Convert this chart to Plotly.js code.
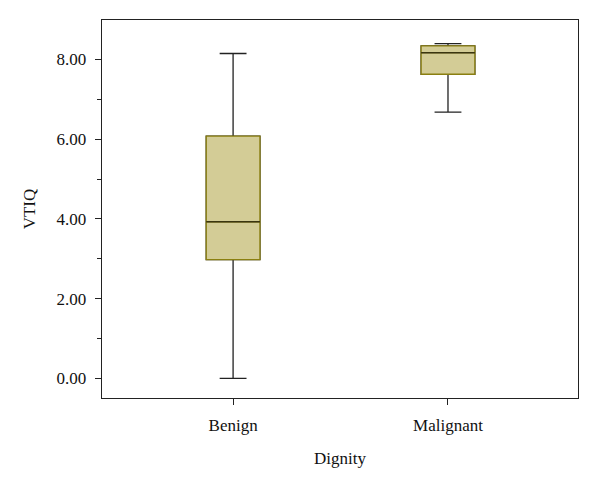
<!DOCTYPE html>
<html>
<head>
<meta charset="utf-8">
<script src="https://cdn.plot.ly/plotly-3.0.1.min.js"></script>
<style>
  html, body { margin: 0; padding: 0; background: #fff; }
  #chart { width: 600px; height: 488px; }
</style>
</head>
<body>
<div id="chart"></div>
<script>
var groups = ['Benign', 'Malignant'];
var lowerFence = [0.0, 6.68];
var q1 = [2.98, 7.63];
var median = [3.93, 8.17];
var q3 = [6.08, 8.34];
var upperFence = [8.15, 8.40];

var boxFill = '#d3cc96';
var boxEdge = '#8a7f10';

// whiskers (black)
var whiskers = {
  type: 'box',
  x: groups,
  q1: q1, median: median, q3: q3,
  lowerfence: lowerFence, upperfence: upperFence,
  width: 0.25,
  whiskerwidth: 0.5,
  fillcolor: 'rgba(0,0,0,0)',
  line: { color: '#222', width: 1.3 },
  hoverinfo: 'skip',
  showlegend: false
};

// filled box with olive edge
var boxes = {
  type: 'box',
  x: groups,
  q1: q1, median: median, q3: q3,
  lowerfence: q1, upperfence: q3,
  width: 0.25,
  whiskerwidth: 0,
  fillcolor: boxFill,
  line: { color: boxEdge, width: 1.3 },
  hoverinfo: 'skip',
  showlegend: false
};

// dark median line
var medians = {
  type: 'box',
  x: groups,
  q1: median, median: median, q3: median,
  lowerfence: median, upperfence: median,
  width: 0.25,
  whiskerwidth: 0,
  fillcolor: 'rgba(0,0,0,0)',
  line: { color: '#3a3510', width: 1.6 },
  hoverinfo: 'skip',
  showlegend: false
};

var font = { family: 'Liberation Serif, DejaVu Serif, serif', size: 17, color: '#111' };

var layout = {
  width: 600,
  height: 488,
  margin: { l: 102, r: 22, t: 20, b: 90 },
  paper_bgcolor: '#fff',
  plot_bgcolor: '#fff',
  font: font,
  boxmode: 'overlay',
  showlegend: false,
  xaxis: {
    type: 'category',
    range: [-0.61, 1.605],
    showline: true, mirror: true, linecolor: '#222', linewidth: 1.3,
    ticks: 'outside', ticklen: 6, tickcolor: '#222', tickwidth: 1,
    ticklabelstandoff: 5,
    showgrid: false, zeroline: false,
    title: { text: 'Dignity', font: font, standoff: 18 }
  },
  yaxis: {
    range: [-0.49, 8.99],
    tickvals: [0, 2, 4, 6, 8],
    tickformat: '.2f',
    showline: true, mirror: true, linecolor: '#222', linewidth: 1.3,
    ticks: 'outside', ticklen: 6, tickcolor: '#222', tickwidth: 1,
    minor: { tickvals: [1, 3, 5, 7], ticks: 'outside', ticklen: 4, tickcolor: '#222', showgrid: false },
    ticklabelstandoff: 5,
    showgrid: false, zeroline: false,
    title: { text: 'VTIQ', font: font, standoff: 16 }
  }
};

Plotly.newPlot('chart', [whiskers, boxes, medians], layout, { displayModeBar: false, staticPlot: true });
</script>
</body>
</html>
